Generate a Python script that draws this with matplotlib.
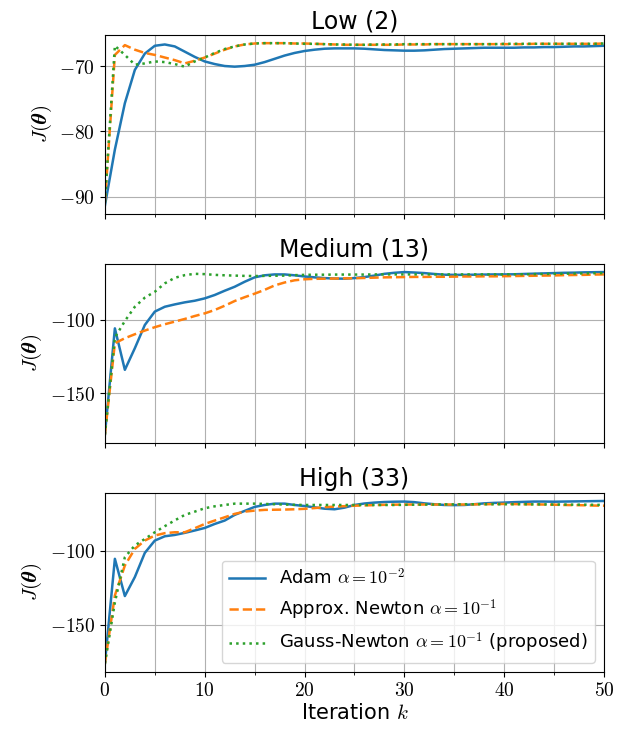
import numpy as np
import matplotlib
matplotlib.use("Agg")
import matplotlib.pyplot as plt
from matplotlib.ticker import MultipleLocator, FuncFormatter

plt.rcParams["mathtext.fontset"] = "cm"
plt.rcParams["font.family"] = ["DejaVu Sans"]

iters = np.arange(51)
titles = ["Low (2)", "Medium (13)", "High (33)"]
labels = [r"Adam $\alpha=10^{-2}$",
          r"Approx. Newton $\alpha=10^{-1}$",
          r"Gauss-Newton $\alpha=10^{-1}$ (proposed)"]

# Low (2)
adam_low = [-91.4, -82.8, -75.7, -70.6, -68.1, -66.9, -66.7, -67.0, -67.8, -68.6,
            -69.3, -69.7, -70.0, -70.1, -70.0, -69.8, -69.4, -68.9, -68.4, -68.0,
            -67.7, -67.5, -67.35, -67.3, -67.3, -67.3, -67.35, -67.45, -67.55, -67.6,
            -67.65, -67.65, -67.6, -67.5, -67.4, -67.35, -67.3, -67.25, -67.2, -67.2,
            -67.2, -67.2, -67.15, -67.15, -67.1, -67.1, -67.05, -67.0, -67.0, -66.95,
            -66.9]
newton_low = [-90.9, -68.3, -66.8, -67.5, -68.0, -68.3, -68.7, -69.1, -69.6, -69.2,
              -68.7, -68.1, -67.5, -67.0, -66.7, -66.55, -66.5, -66.5, -66.5, -66.55,
              -66.55, -66.6, -66.65, -66.7, -66.75, -66.75, -66.75, -66.75, -66.75, -66.75,
              -66.7, -66.7, -66.7, -66.65, -66.65, -66.65, -66.65, -66.65, -66.65, -66.65,
              -66.65, -66.65, -66.65, -66.6, -66.6, -66.6, -66.6, -66.6, -66.6, -66.6,
              -66.55]
gauss_low = [-90.9, -66.9, -68.3, -69.8, -69.6, -69.3, -69.4, -69.7, -70.1, -69.3,
             -68.7, -68.0, -67.4, -67.0, -66.7, -66.55, -66.5, -66.5, -66.5, -66.55,
             -66.6, -66.6, -66.65, -66.7, -66.7, -66.75, -66.75, -66.7, -66.7, -66.7,
             -66.65, -66.65, -66.65, -66.65, -66.65, -66.65, -66.65, -66.65, -66.65, -66.65,
             -66.6, -66.6, -66.6, -66.6, -66.6, -66.6, -66.6, -66.6, -66.6, -66.6,
             -66.55]

# Medium (13)
adam_med = [-178.0, -105.7, -133.9, -119.2, -103.4, -94.3, -91.0, -89.4, -88.0, -86.9,
            -85.3, -83.0, -80.1, -77.4, -74.0, -71.0, -69.6, -69.0, -69.0, -69.6,
            -70.4, -71.0, -71.5, -71.8, -71.9, -71.5, -70.8, -69.8, -68.6, -67.9,
            -67.4, -67.7, -68.1, -68.7, -69.2, -69.3, -69.3, -69.2, -69.1, -69.0,
            -69.0, -68.9, -68.7, -68.5, -68.3, -68.1, -67.9, -67.8, -67.6, -67.5,
            -67.4]
newton_med = [-178.0, -115.8, -112.4, -109.7, -107.2, -104.9, -102.9, -101.1, -99.3, -97.3,
              -95.5, -93.2, -90.3, -87.1, -84.5, -82.1, -79.5, -76.5, -74.5, -73.0,
              -72.3, -72.0, -71.9, -71.8, -71.7, -71.6, -71.4, -71.2, -71.0, -70.9,
              -70.8, -70.7, -70.7, -70.6, -70.6, -70.5, -70.4, -70.4, -70.3, -70.3,
              -70.2, -70.1, -70.0, -69.9, -69.8, -69.7, -69.5, -69.4, -69.3, -69.1,
              -69.0]
gauss_med = [-178.0, -112.0, -100.7, -91.0, -84.8, -80.8, -75.1, -71.3, -69.5, -68.6,
             -68.8, -69.3, -69.6, -69.8, -70.0, -70.1, -70.0, -69.9, -69.8, -69.5,
             -69.3, -69.2, -69.2, -69.1, -69.1, -69.1, -69.1, -69.0, -69.0, -69.0,
             -69.0, -69.0, -69.0, -69.0, -69.0, -69.0, -69.0, -69.0, -69.0, -69.0,
             -69.0, -68.9, -68.9, -68.8, -68.7, -68.6, -68.5, -68.4, -68.3, -68.2,
             -68.1]

# High (33)
adam_high = [-176.2, -105.6, -130.7, -117.9, -101.6, -93.3, -90.4, -89.5, -88.1, -86.5,
             -84.8, -82.1, -79.8, -76.0, -73.3, -70.6, -69.3, -68.4, -68.4, -69.3,
             -70.0, -70.9, -71.8, -72.2, -71.1, -69.3, -68.3, -67.7, -67.3, -67.1,
             -67.0, -67.4, -68.2, -68.8, -69.3, -69.4, -69.3, -68.8, -68.2, -67.9,
             -67.7, -67.4, -67.2, -67.0, -67.0, -67.1, -67.0, -66.9, -66.8, -66.7,
             -66.6]
newton_high = [-176.2, -130.3, -110.1, -98.9, -93.3, -89.9, -88.3, -87.7, -87.7, -85.0,
               -82.1, -79.8, -77.6, -75.3, -73.8, -73.1, -72.6, -72.5, -72.4, -72.2,
               -71.9, -71.4, -70.8, -70.4, -70.1, -69.8, -69.6, -69.4, -69.2, -69.1,
               -69.0, -69.0, -69.0, -69.0, -69.0, -69.0, -69.0, -68.9, -68.8, -68.7,
               -68.6, -68.7, -68.8, -68.9, -69.0, -69.1, -69.3, -69.4, -69.5, -69.7,
               -69.8]
gauss_high = [-176.2, -135.0, -104.5, -96.6, -92.2, -87.7, -83.6, -79.7, -76.0, -73.8,
              -71.5, -70.2, -69.3, -68.4, -68.4, -68.4, -68.6, -68.8, -69.0, -69.2,
              -69.3, -69.3, -69.3, -69.3, -69.3, -69.3, -69.3, -69.3, -69.3, -69.3,
              -69.2, -69.1, -69.0, -69.0, -68.9, -68.9, -68.8, -68.8, -68.8, -68.8,
              -68.8, -68.8, -68.8, -68.9, -68.9, -69.0, -69.0, -69.1, -69.1, -69.2,
              -69.3]

panels = [(adam_low, newton_low, gauss_low),
          (adam_med, newton_med, gauss_med),
          (adam_high, newton_high, gauss_high)]
ystep = [10, 50, 50]

fig, axes = plt.subplots(3, 1, figsize=(6.17, 7.36), dpi=100, sharex=True)
fig.subplots_adjust(left=0.17, right=0.979, bottom=0.0874, top=0.9524, hspace=0.28)

mathfmt = FuncFormatter(lambda v, p: "$%d$" % round(v))

for ax, (a, n, g), title, step in zip(axes, panels, titles, ystep):
    ax.plot(iters, a, color="tab:blue", lw=1.8, ls="-", label=labels[0])
    ax.plot(iters, n, color="tab:orange", lw=1.8, ls="--", label=labels[1])
    ax.plot(iters, g, color="tab:green", lw=1.8, ls=":", label=labels[2])
    ax.set_title(title, fontsize=17, pad=5)
    ax.set_ylabel(r"$J(\boldsymbol{\theta})$", fontsize=15)
    ax.set_xlim(0, 50)
    ax.xaxis.set_major_locator(MultipleLocator(10))
    ax.xaxis.set_minor_locator(MultipleLocator(5))
    ax.yaxis.set_major_locator(MultipleLocator(step))
    ax.xaxis.set_major_formatter(mathfmt)
    ax.yaxis.set_major_formatter(mathfmt)
    ax.tick_params(labelsize=14)
    ax.grid(True, which="both", axis="x", color="#b0b0b0", lw=0.8)
    ax.grid(True, which="major", axis="y", color="#b0b0b0", lw=0.8)

axes[2].set_xlabel(r"Iteration $k$", fontsize=15, labelpad=2)
axes[2].legend(loc="lower right", fontsize=13, borderaxespad=0.5)

fig.savefig("out.png", dpi=100)
